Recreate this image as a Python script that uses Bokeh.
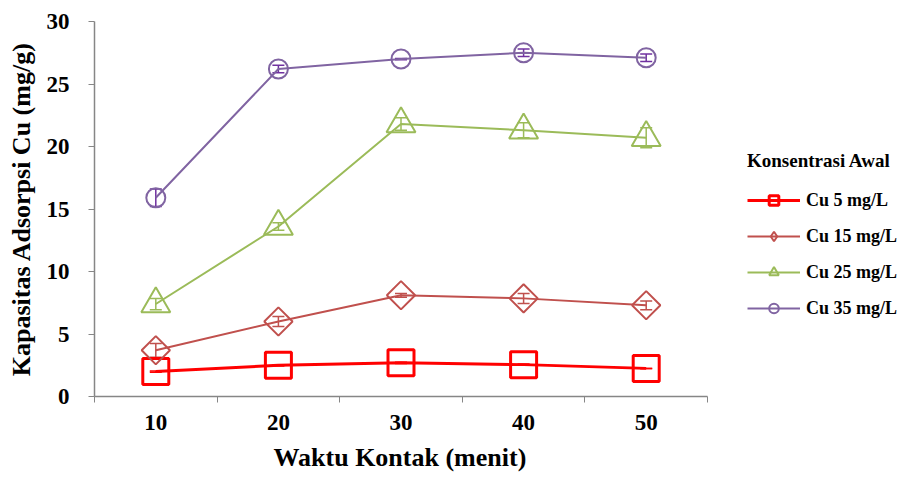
import numpy as np
from bokeh.plotting import figure
from bokeh.models import (ColumnDataSource, FixedTicker, Legend, LegendItem,
                          Whisker, TeeHead, Range1d, Title)
from bokeh.embed import file_html
from bokeh.resources import INLINE

# Contact time (minutes)
waktu = [10, 20, 30, 40, 50]

# Adsorption capacity of Cu (mg/g) for each initial concentration
series_names = ["Cu 5 mg/L", "Cu 15 mg/L", "Cu 25 mg/L", "Cu 35 mg/L"]
cu5 = [2.0, 2.5, 2.7, 2.55, 2.25]
cu15 = [3.7, 6.0, 8.1, 7.85, 7.3]
cu25 = [7.4, 13.6, 21.8, 21.3, 20.7]
cu35 = [15.9, 26.2, 27.0, 27.5, 27.1]

# Standard deviations
err5 = [0.05, 0.05, 0.05, 0.05, 0.0]
err15 = [0.55, 0.4, 0.15, 0.4, 0.35]
err25 = [0.45, 0.3, 0.5, 0.6, 0.8]
err35 = [0.7, 0.3, 0.05, 0.3, 0.3]

y_ticks = [0, 5, 10, 15, 20, 25, 30]

FONT = "Liberation Serif"
AXIS_GREY = "#868686"

# The plotting frame runs to the right edge so the legend can sit beside the
# data; the x axis itself is bounded to the 5..55 category span.
X_LO, X_HI = 5, 55
X_FRAME_END = X_LO + (904 - 94) * (X_HI - X_LO) / 613

p = figure(width=904, height=481, output_backend="svg", toolbar_location=None,
           x_range=Range1d(X_LO, X_FRAME_END), y_range=Range1d(0, 30),
           min_border_left=94, min_border_right=0, min_border_top=21,
           min_border_bottom=85)
p.outline_line_color = None
p.grid.visible = False
p.background_fill_color = "white"
p.border_fill_color = "white"

# x axis: labels at category centres, tick marks on category boundaries
xa = p.xaxis[0]
xa.bounds = (X_LO, X_HI)
xa.ticker = FixedTicker(ticks=waktu, minor_ticks=[w - 5 for w in waktu] + [waktu[-1] + 5])
xa.major_tick_out = 0
xa.major_tick_in = 0
xa.minor_tick_out = 6
xa.minor_tick_in = 0
xa.minor_tick_line_color = AXIS_GREY
xa.axis_line_color = AXIS_GREY
xa.axis_line_width = 1.5
xa.major_label_text_font = FONT
xa.major_label_text_font_style = "bold"
xa.major_label_text_font_size = "23px"
xa.major_label_text_color = "black"
xa.major_label_standoff = 12

# x axis title, centred under the bounded axis rather than the whole frame
x_title = Title(text="Waktu Kontak (menit)", align="left", offset=179, standoff=16,
                text_font=FONT, text_font_style="bold", text_font_size="26px",
                text_color="black")
p.add_layout(x_title, "below")

ya = p.yaxis[0]
ya.ticker = FixedTicker(ticks=y_ticks)
ya.major_tick_out = 6
ya.major_tick_in = 0
ya.minor_tick_out = 0
ya.minor_tick_in = 0
ya.major_tick_line_color = AXIS_GREY
ya.axis_line_color = AXIS_GREY
ya.axis_line_width = 1.5
ya.major_label_text_font = FONT
ya.major_label_text_font_style = "bold"
ya.major_label_text_font_size = "23px"
ya.major_label_text_color = "black"
ya.major_label_standoff = 19
ya.axis_label = "Kapasitas Adsorpsi Cu (mg/g)"
ya.axis_label_text_font = FONT
ya.axis_label_text_font_style = "bold"
ya.axis_label_text_font_size = "26px"
ya.axis_label_text_color = "black"
ya.axis_label_standoff = 8

styles = [
    dict(values=cu5, err=err5, color="#FF0000", ecolor="#FF0000", lw=3,
         marker="square", size=26, angle=0.0, key_marker="square"),
    dict(values=cu15, err=err15, color="#C0504D", ecolor="#C0504D", lw=2,
         marker="square", size=20, angle=np.pi / 4, key_marker="diamond"),
    dict(values=cu25, err=err25, color="#9BBB59", ecolor="#9BBB59", lw=2,
         marker="triangle", size=29, angle=0.0, key_marker="triangle"),
    dict(values=cu35, err=err35, color="#8064A2", ecolor="#7030A0", lw=2,
         marker="circle", size=19, angle=0.0, key_marker="circle"),
]

items = []
for name, st in zip(series_names, styles):
    vals = st["values"]
    err = st["err"]
    src = ColumnDataSource(data=dict(
        x=waktu, y=vals,
        lower=[v - e for v, e in zip(vals, err)],
        upper=[v + e for v, e in zip(vals, err)],
    ))
    line = p.line("x", "y", source=src, line_color=st["color"], line_width=st["lw"])
    p.scatter("x", "y", source=src, marker=st["marker"], size=st["size"],
              angle=st["angle"], line_color=st["color"], line_width=st["lw"],
              fill_alpha=0)
    # zero-size twin used only for the legend key (keeps the diamond upright)
    key = p.scatter("x", "y", source=src, marker=st["key_marker"], size=0,
                    line_color=st["color"], line_width=st["lw"], fill_alpha=0)
    wh = Whisker(source=src, base="x", lower="lower", upper="upper",
                 dimension="height", line_color=st["ecolor"], line_width=1.5,
                 upper_head=TeeHead(size=12, line_color=st["ecolor"], line_width=1.5),
                 lower_head=TeeHead(size=12, line_color=st["ecolor"], line_width=1.5))
    p.add_layout(wh)
    items.append(LegendItem(label=name, renderers=[line, key]))

legend = Legend(items=items, location=(653, 76), title="Konsentrasi Awal",
                title_text_font=FONT, title_text_font_style="bold",
                title_text_font_size="19px", title_text_color="black",
                title_standoff=16,
                label_text_font=FONT, label_text_font_style="bold",
                label_text_font_size="18px", label_text_color="black",
                glyph_width=53, glyph_height=24, label_height=24,
                label_standoff=6, spacing=12, padding=0, margin=0,
                border_line_alpha=0, background_fill_alpha=0)
p.add_layout(legend, "center")

open("out.html", "w").write(file_html(p, INLINE))
